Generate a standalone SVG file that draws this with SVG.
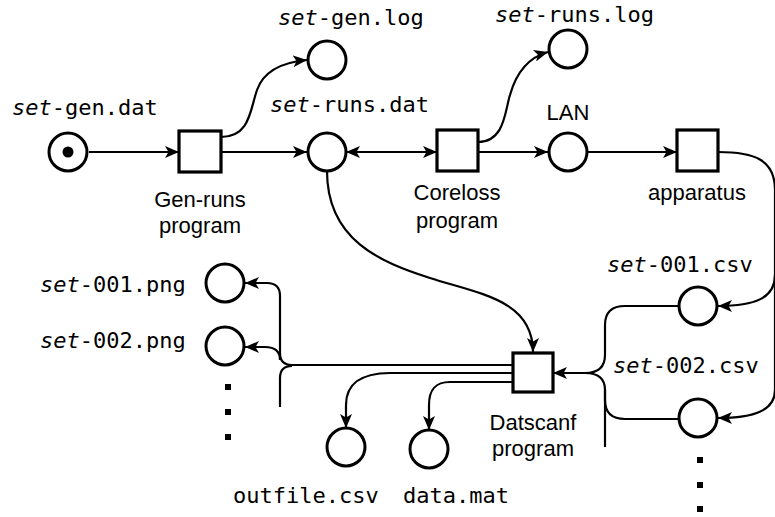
<svg xmlns="http://www.w3.org/2000/svg" width="775" height="517" viewBox="0 0 775 517">
<style>
  .place{fill:#fff;stroke:#000;stroke-width:3}
  .trans{fill:#fff;stroke:#000;stroke-width:3.2}
  .edge{fill:none;stroke:#000;stroke-width:2.2}
  .arr{marker-end:url(#ah)}
  .mono{font-family:"DejaVu Sans Mono",monospace;font-size:22px;fill:#000}
  .sans{font-family:"Liberation Sans",Arial,sans-serif;font-size:22px;fill:#000;text-anchor:middle}
  .it{font-style:italic}
</style>
<defs>
  <marker id="ah" markerUnits="userSpaceOnUse" markerWidth="16" markerHeight="12" refX="14" refY="6" orient="auto">
    <path d="M0,0 L14,6 L0,12 L3.5,6 z" fill="#000"/>
  </marker>
  <marker id="ahs" markerUnits="userSpaceOnUse" markerWidth="16" markerHeight="12" refX="0" refY="6" orient="auto">
    <path d="M14,0 L0,6 L14,12 L10.5,6 z" fill="#000"/>
  </marker>
</defs>

<g id="connectors">
  <path class="edge arr" d="M89,152 H179"/>
  <path class="edge arr" d="M221,152 H307"/>
  <path class="edge arr" d="M221,137 C250,137 250,110 257,90 C264,70 285,62 307,60"/>
  <path class="edge arr" d="M346,152 H437" marker-start="url(#ahs)"/>
  <path class="edge arr" d="M478,152 H548"/>
  <path class="edge arr" d="M478,142 C505,142 505,110 510,95 C517,70 530,57 548,52"/>
  <path class="edge arr" d="M588,152 H677"/>
  <path class="edge arr" d="M327,171 C327,240 380,262 430,278 C480,294 533,300 533,352"/>
  <path class="edge arr" d="M718,152 C755,152 775,160 775,190 V275 C775,298 755,306 718,306"/>
  <path class="edge arr" d="M775,275 V390 C775,410 755,418 718,418"/>
  <path class="edge arr" d="M678,306 H625 Q605,306 605,325 V355 Q605,373 585,373 H553"/>
  <path class="edge" d="M678,419 H625 Q605,419 605,400 V390 Q605,373 585,373"/>
  <path class="edge" d="M605,390 V447"/>
  <path class="edge arr" d="M513,365 H292 Q280,365 280,353 V296 Q280,283 267,283 H245"/>
  <path class="edge arr" d="M280,360 Q280,347 265,347 H245"/>
  <path class="edge" d="M292,366 Q280,366 280,378 V407"/>
  <path class="edge arr" d="M513,373 H390 C360,373 346,385 346,405 V428"/>
  <path class="edge arr" d="M513,382 H450 C435,382 429,390 429,405 V430"/>
</g>

<g id="set-gen-dat">
  <circle class="place" cx="68" cy="152" r="19"/>
  <circle cx="68" cy="152" r="5.5" fill="#000"/>
  <text class="mono" x="12" y="115"><tspan class="it">set</tspan>-gen.dat</text>
</g>
<g id="gen-runs">
  <rect class="trans" x="179" y="131" width="42" height="41"/>
  <text class="sans" x="200" y="207">Gen-runs</text>
  <text class="sans" x="200" y="233">program</text>
</g>
<g id="set-gen-log">
  <circle class="place" cx="327" cy="60" r="19"/>
  <text class="mono" x="278" y="25"><tspan class="it">set</tspan>-gen.log</text>
</g>
<g id="set-runs-dat">
  <circle class="place" cx="327" cy="152" r="19"/>
  <text class="mono" x="270" y="112"><tspan class="it">set</tspan>-runs.dat</text>
</g>
<g id="coreloss">
  <rect class="trans" x="437" y="130" width="41" height="41"/>
  <text class="sans" x="457" y="200">Coreloss</text>
  <text class="sans" x="457" y="228">program</text>
</g>
<g id="set-runs-log">
  <circle class="place" cx="568" cy="49" r="19"/>
  <text class="mono" x="495" y="22"><tspan class="it">set</tspan>-runs.log</text>
</g>
<g id="lan">
  <circle class="place" cx="568" cy="152" r="19"/>
  <text class="sans" x="568" y="120">LAN</text>
</g>
<g id="apparatus">
  <rect class="trans" x="677" y="130" width="41" height="41"/>
  <text class="sans" x="697" y="200">apparatus</text>
</g>
<g id="set-001-csv">
  <circle class="place" cx="698" cy="306" r="19"/>
  <text class="mono" x="607" y="272"><tspan class="it">set</tspan>-001.csv</text>
</g>
<g id="set-002-csv">
  <circle class="place" cx="698" cy="418" r="19"/>
  <text class="mono" x="613" y="373"><tspan class="it">set</tspan>-002.csv</text>
</g>
<g id="csv-more">
  <rect x="697" y="457" width="6" height="6"/>
  <rect x="697" y="482" width="6" height="6"/>
  <rect x="697" y="506" width="6" height="6"/>
</g>
<g id="datscanf">
  <rect class="trans" x="513" y="353" width="40" height="39"/>
  <text class="sans" x="533" y="430">Datscanf</text>
  <text class="sans" x="533" y="456">program</text>
</g>
<g id="set-001-png">
  <circle class="place" cx="225" cy="283" r="19"/>
  <text class="mono" x="40" y="292"><tspan class="it">set</tspan>-001.png</text>
</g>
<g id="set-002-png">
  <circle class="place" cx="225" cy="346" r="19"/>
  <text class="mono" x="40" y="348"><tspan class="it">set</tspan>-002.png</text>
</g>
<g id="png-more">
  <rect x="225" y="384" width="6" height="6"/>
  <rect x="225" y="409" width="6" height="6"/>
  <rect x="225" y="434" width="6" height="6"/>
</g>
<g id="outfile-csv">
  <circle class="place" cx="346" cy="447" r="19"/>
  <text class="mono" x="233" y="503">outfile.csv</text>
</g>
<g id="data-mat">
  <circle class="place" cx="429" cy="449" r="19"/>
  <text class="mono" x="403" y="503">data.mat</text>
</g>
</svg>
